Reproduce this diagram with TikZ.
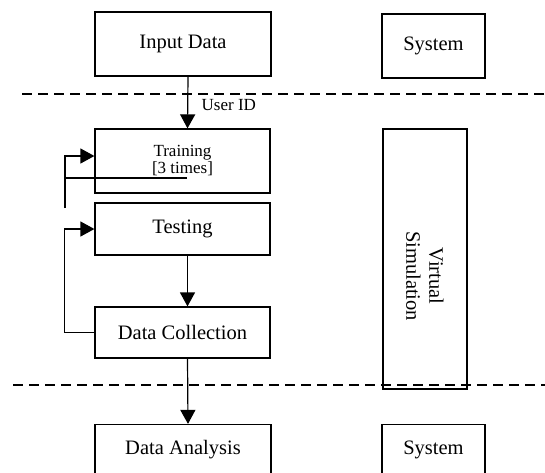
\documentclass[tikz,border=0pt]{standalone}
\usepackage{fontspec}
\setmainfont{Liberation Serif}
\usetikzlibrary{arrows.meta}
\usetikzlibrary{calc}
\tikzstyle{block}=[draw,line width=1.2pt,inner sep=2pt,align=center,font=\fontsize{20.5}{23}\selectfont]
\tikzstyle{arr}=[line width=1.2pt,-{Triangle[length=14pt,width=15pt]}]
\tikzstyle{lane}=[line width=1.2pt,dash pattern=on 10pt off 6pt]
\newcommand{\smalltext}{\fontsize{17}{19}\selectfont}

\begin{document}
\begin{tikzpicture}[x=1pt,y=-1pt]
	\useasboundingbox (0,0) rectangle (545,472);
	\clip (0,0) rectangle (545,472);
	% lanes
	\draw[lane] (22,94) -- (545,94);
	\draw[lane] (13,385) -- (545,385);
	% left column
	\node[block,minimum width=176pt,minimum height=64pt] (input) at (183,44) {Input Data};
	\node[block,minimum width=175pt,minimum height=64pt,font=\smalltext] (train) at (182.5,161) {Training\\[-2pt][3 times]};
	\node[block,minimum width=175pt,minimum height=52pt] (test) at (182.5,229) {Testing};
	\node[block,minimum width=175pt,minimum height=51pt] (collect) at (182.5,332.5) {Data Collection};
	\node[block,minimum width=176pt,minimum height=51pt] (analysis) at (183,450) {Data Analysis};
	% right column
	\node[block,minimum width=103pt,minimum height=64pt] (systop) at (433.5,46) {System};
	\node[block,minimum width=260pt,minimum height=84pt,rotate=-90] (virtual) at (425,259) {\hspace*{34pt}Virtual\\\hspace*{34pt}Simulation};
	\node[block,minimum width=103pt,minimum height=51pt] (sysbot) at (433.5,450) {System};
	% flow
	\draw[arr] ([xshift=5pt]input.south) -- ([xshift=5pt]train.north)
		node[pos=0.55,right=10pt,font=\smalltext] (userid) {User ID};
	\draw[arr] ([xshift=5pt]test.south) -- ([xshift=5pt]collect.north);
	\draw[arr] ([xshift=5pt]collect.south) -- ([xshift=5pt]analysis.north);
	% loops
	\coordinate (loopbot) at (65,208);
	\coordinate (loopmid) at (65,178);
	\coordinate (looptail) at (187,178);
	\draw[arr] (loopbot) |- ([yshift=5pt]train.west);
	\draw[line width=1.2pt] (loopmid) -- (looptail);
	\draw[arr] (collect.west) -- ++(-30,0) |- (test.west);
\end{tikzpicture}
\end{document}
